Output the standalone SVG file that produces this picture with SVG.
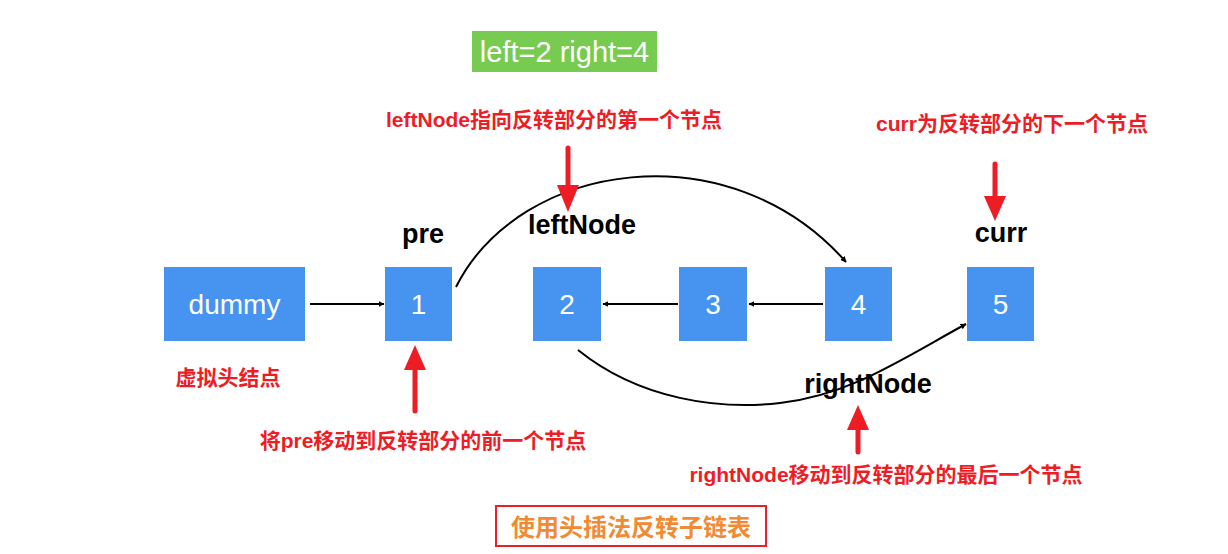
<svg xmlns="http://www.w3.org/2000/svg" width="1228" height="554" viewBox="0 0 1228 554">
<style>
.node{fill:#4694F0}
.nt{fill:#fff;font-family:"Liberation Sans",Arial,sans-serif;font-size:28px;text-anchor:middle}
.bl{fill:#000;font-family:"Liberation Sans",Arial,sans-serif;font-size:27px;font-weight:bold;text-anchor:middle}
.rl{fill:#EE1C25;font-family:"Liberation Sans","Noto Sans CJK SC",sans-serif;font-size:21px;font-weight:bold;text-anchor:middle}
.con{fill:none;stroke:#000;stroke-width:2}
.red{stroke:#EE1C25;stroke-width:5;stroke-linecap:round;fill:none}
.rh{fill:#EE1C25}
</style>
<defs>
<marker id="ah" viewBox="0 0 10 10" refX="9" refY="5" markerWidth="6" markerHeight="6" orient="auto" markerUnits="userSpaceOnUse">
<path d="M0,0 L10,5 L0,10 z" fill="#000"/>
</marker>
</defs>
<rect width="1228" height="554" fill="#fff"/>
<g id="title">
<rect x="472" y="31" width="185" height="41" fill="#76CB50"/>
<text x="564.5" y="62" fill="#fff" font-family="'Liberation Sans',Arial,sans-serif" font-size="29" text-anchor="middle">left=2 right=4</text>
</g>
<g id="dummy"><rect class="node" x="164" y="267" width="141" height="74"/><text class="nt" x="234.5" y="314">dummy</text></g>
<g id="n1"><rect class="node" x="385" y="267" width="67" height="74"/><text class="nt" x="418.5" y="314">1</text></g>
<g id="n2"><rect class="node" x="533" y="267" width="68" height="74"/><text class="nt" x="567" y="314">2</text></g>
<g id="n3"><rect class="node" x="679" y="267" width="68" height="74"/><text class="nt" x="713" y="314">3</text></g>
<g id="n4"><rect class="node" x="825" y="267" width="67" height="74"/><text class="nt" x="858.5" y="314">4</text></g>
<g id="n5"><rect class="node" x="967" y="267" width="67" height="74"/><text class="nt" x="1000.5" y="314">5</text></g>
<g id="connectors">
<line class="con" x1="310" y1="304" x2="384" y2="304" marker-end="url(#ah)"/>
<line class="con" x1="678" y1="304" x2="603" y2="304" marker-end="url(#ah)"/>
<line class="con" x1="823" y1="304" x2="749" y2="304" marker-end="url(#ah)"/>
<path class="con" d="M456,287 C520,160 730,130 846,262" marker-end="url(#ah)"/>
<path class="con" d="M578,350 C640,400 720,410 780,403 C850,395 900,360 966,324" marker-end="url(#ah)"/>
</g>
<g id="labels">
<text class="bl" x="423" y="243">pre</text>
<text class="bl" x="582" y="234">leftNode</text>
<text class="bl" x="1001" y="242">curr</text>
<text class="bl" x="868" y="393">rightNode</text>
<text class="rl" x="554" y="127">leftNode指向反转部分的第一个节点</text>
<text class="rl" x="1012" y="131">curr为反转部分的下一个节点</text>
<text class="rl" x="228" y="385">虚拟头结点</text>
<text class="rl" x="423" y="448">将pre移动到反转部分的前一个节点</text>
<text class="rl" x="886" y="482">rightNode移动到反转部分的最后一个节点</text>
</g>
<g id="red-arrows">
<line class="red" x1="568" y1="148" x2="568" y2="190"/>
<path class="rh" d="M557,185 L579,185 L568,212 z"/>
<line class="red" x1="995" y1="164" x2="995" y2="200"/>
<path class="rh" d="M984,196 L1006,196 L995,221 z"/>
<line class="red" x1="415" y1="411" x2="415" y2="365"/>
<path class="rh" d="M404,370 L426,370 L415,345 z"/>
<line class="red" x1="858" y1="452" x2="858" y2="425"/>
<path class="rh" d="M847,430 L869,430 L858,405 z"/>
</g>
<g id="footer">
<rect x="496" y="506" width="270" height="40" fill="none" stroke="#E8202A" stroke-width="2"/>
<text x="631" y="536" fill="#F28A33" font-family="'Noto Sans CJK SC',sans-serif" font-size="24" font-weight="bold" text-anchor="middle">使用头插法反转子链表</text>
</g>
</svg>
